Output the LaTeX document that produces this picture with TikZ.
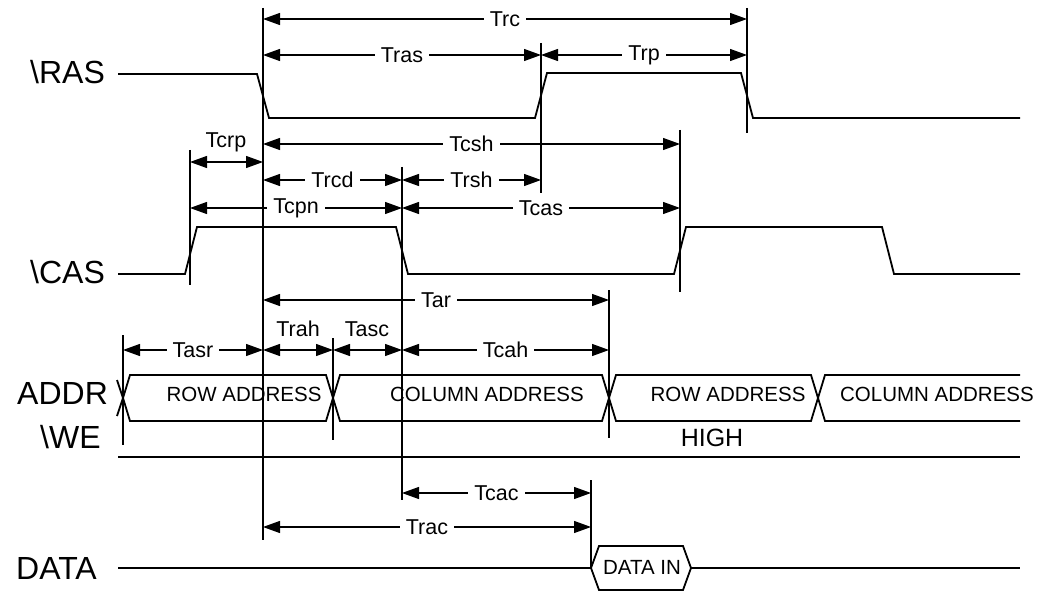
\documentclass[tikz,border=0pt]{standalone}
\usepackage{fontspec}
\setmainfont{Liberation Sans}
\usetikzlibrary{arrows.meta}
\begin{document}
\begin{tikzpicture}[x=1pt,y=-1pt,
  sig/.style={line width=1.8pt, line join=miter},
  dimline/.style={line width=1.2pt, {Triangle[length=17pt,width=12pt]}-{Triangle[length=17pt,width=12pt]}},
  vline/.style={line width=1.4pt},
  dlab/.style={fill=white, inner xsep=6pt, inner ysep=1pt, font=\fontsize{21.5}{21.5}\selectfont},
  tlab/.style={font=\fontsize{21.5}{21.5}\selectfont, inner sep=0pt},
  siglab/.style={font=\fontsize{32}{32}\selectfont, anchor=west, inner sep=0pt},
  bustxt/.style={font=\fontsize{20.5}{20.5}\selectfont, inner sep=0pt},
]
\useasboundingbox (0,0) rectangle (1047,596);

% marker x positions
\coordinate (xA) at (263,0);
\coordinate (xB) at (541,0);
\coordinate (xC) at (747,0);
\coordinate (xD) at (190,0);
\coordinate (xE) at (680,0);
\coordinate (xF) at (402,0);
\coordinate (xG) at (123,0);
\coordinate (xH) at (333,0);
\coordinate (xI) at (609,0);
\coordinate (xJ) at (591,0);

% y levels of dimension arrows
\coordinate (yTrc) at (0,19);
\coordinate (yTras) at (0,55);
\coordinate (yTcsh) at (0,144);
\coordinate (yTcrp) at (0,162);
\coordinate (yTrcd) at (0,180);
\coordinate (yTcpn) at (0,208);
\coordinate (yTar) at (0,300);
\coordinate (yTasr) at (0,350);
\coordinate (yTcac) at (0,493);
\coordinate (yTrac) at (0,527);

% vertical reference lines
\draw[vline] (263,8) -- (263,540);
\draw[vline] (541,43) -- (541,193);
\draw[vline] (747,8) -- (747,133);
\draw[vline] (190,150) -- (190,285);
\draw[vline] (680,130) -- (680,292);
\draw[vline] (402,167) -- (402,500);
\draw[vline] (123,335) -- (123,445);
\draw[vline] (333,338) -- (333,440);
\draw[vline] (609,290) -- (609,438);
\draw[vline] (591,480) -- (591,568);

% signal labels
\node[siglab] (lras) at (30,72) {\textbackslash RAS};
\node[siglab] (lcas) at (30,272) {\textbackslash CAS};
\node[siglab] (laddr) at (17,393) {ADDR};
\node[siglab] (lwe) at (40,437) {\textbackslash WE};
\node[siglab] (ldata) at (16,568) {DATA};

% RAS
\draw[sig] (118,74) -- (257,74) -- (269,118) -- (535,118) -- (547,73) -- (741,73) -- (753,118) -- (1020,118);
% CAS
\draw[sig] (118,274) -- (185,274) -- (197,227) -- (396,227) -- (408,274) -- (674,274) -- (686,227) -- (882,227) -- (894,274) -- (1020,274);
% ADDR bus
\draw[sig] (117,380) -- (123,398) -- (117,416);
\draw[sig] (123,398) -- (130,375) -- (326,375) -- (333,398) -- (326,421) -- (130,421) -- cycle;
\draw[sig] (333,398) -- (340,375) -- (602,375) -- (609,398) -- (602,421) -- (340,421) -- cycle;
\draw[sig] (609,398) -- (616,375) -- (811,375) -- (818,398) -- (811,421) -- (616,421) -- cycle;
\draw[sig] (1020,375) -- (825,375) -- (818,398) -- (825,421) -- (1020,421);
\node[bustxt] (b1) at (244,394) {ROW ADDRESS};
\node[bustxt] (b2) at (487,394) {COLUMN ADDRESS};
\node[bustxt] (b3) at (728,394) {ROW ADDRESS};
\node[bustxt] (b4) at (937,394) {COLUMN ADDRESS};
% WE
\draw[sig] (118,457) -- (1020,457);
\node[font=\fontsize{25}{25}\selectfont, inner sep=0pt] (high) at (712,438) {HIGH};
% DATA
\draw[sig] (118,568) -- (591,568);
\draw[sig] (591,568) -- (599,546) -- (683,546) -- (691,568) -- (683,590) -- (599,590) -- cycle;
\draw[sig] (691,568) -- (1020,568);
\node[bustxt] (din) at (642,567) {DATA IN};

% dimension arrows
\draw[dimline] (xA|-yTrc) -- node[dlab]{Trc} (xC|-yTrc);
\draw[dimline] (xA|-yTras) -- node[dlab]{Tras} (xB|-yTras);
\draw[dimline] (xB|-yTras) -- node[dlab]{Trp} (xC|-yTras);
\draw[dimline] (xA|-yTcsh) -- node[dlab]{Tcsh} (xE|-yTcsh);
\draw[dimline] (xD|-yTcrp) -- (xA|-yTcrp);
\node[tlab] (tcrp) at (226,142) {Tcrp};
\draw[dimline] (xA|-yTrcd) -- node[dlab]{Trcd} (xF|-yTrcd);
\draw[dimline] (xF|-yTrcd) -- node[dlab]{Trsh} (xB|-yTrcd);
\draw[dimline] (xD|-yTcpn) -- node[dlab]{Tcpn} (xF|-yTcpn);
\draw[dimline] (xF|-yTcpn) -- node[dlab]{Tcas} (xE|-yTcpn);
\draw[dimline] (xA|-yTar) -- node[dlab]{Tar} (xI|-yTar);
\draw[dimline] (xG|-yTasr) -- node[dlab]{Tasr} (xA|-yTasr);
\draw[dimline] (xA|-yTasr) -- (xH|-yTasr);
\draw[dimline] (xH|-yTasr) -- (xF|-yTasr);
\draw[dimline] (xF|-yTasr) -- node[dlab]{Tcah} (xI|-yTasr);
\node[tlab] (trah) at (298,329) {Trah};
\node[tlab] (tasc) at (367,329) {Tasc};
\draw[dimline] (xF|-yTcac) -- node[dlab]{Tcac} (xJ|-yTcac);
\draw[dimline] (xA|-yTrac) -- node[dlab]{Trac} (xJ|-yTrac);
\end{tikzpicture}
\end{document}
